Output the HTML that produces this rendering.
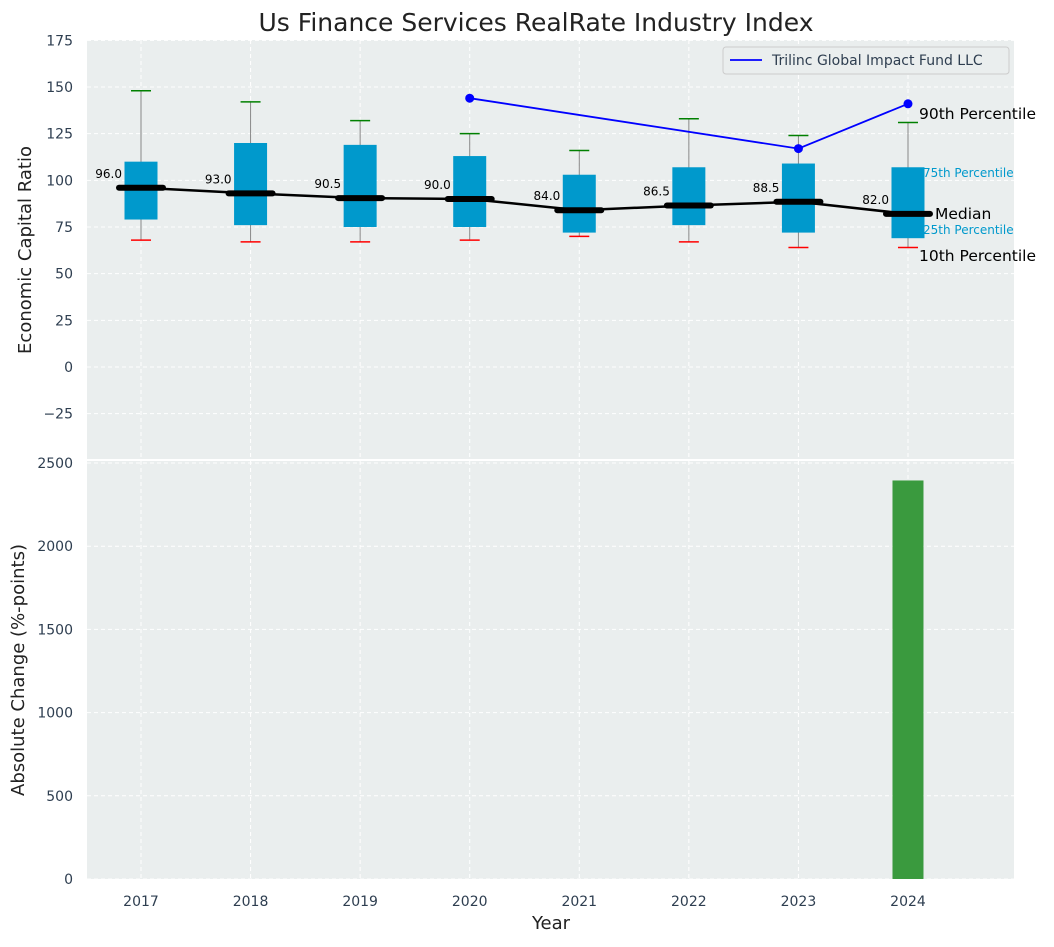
<!DOCTYPE html>
<html><head><meta charset="utf-8"><style>
body{margin:0;background:#fff;font-family:"Liberation Sans","DejaVu Sans",sans-serif}
svg text{font-family:"DejaVu Sans","Liberation Sans",sans-serif}
</style></head><body>
<svg id="c" width="1054" height="942" viewBox="0 0 1054 942"></svg>
<script>
const years=[2017,2018,2019,2020,2021,2022,2023,2024];
const medians=[96,93,90.5,90,84,86.5,88.5,82];
const q1=[79,76,75,75,72,76,72,69];
const q3=[110,120,119,113,103,107,109,107];
const p10=[68,67,67,68,70,67,64,64];
const p90=[148,142,132,125,116,133,124,131];
const fundYears=[2020,2023,2024];
const fundVals=[144,117,141];
const changeYears=[2024];
const changeVals=[2395];
const topTicks=[-25,0,25,50,75,100,125,150,175];
const botTicks=[0,500,1000,1500,2000,2500];

const NS="http://www.w3.org/2000/svg";
const svg=document.getElementById('c');
function el(t,a,p){const e=document.createElementNS(NS,t);for(const k in a)e.setAttribute(k,a[k]);(p||svg).appendChild(e);return e;}
const L=87,R=1014;
const x=v=>141+(v-2017)*109.57;
const yT=v=>367-v*1.8667;
const yB=v=>879-v*0.1664;

let e=el('rect',{x:L,y:40,width:R-L,height:419,fill:'#eaeeee'});


e=el('rect',{x:L,y:461,width:R-L,height:418,fill:'#eaeeee'});



topTicks.forEach(t=>{el('line',{x1:L,x2:R,y1:yT(t),y2:yT(t),stroke:'#fff','stroke-dasharray':'4,3','stroke-width':1});
 const tx=el('text',{x:73,y:yT(t)+5,'text-anchor':'end','font-size':14,fill:'#2e3e50'});tx.textContent=t<0?'\u2212'+(-t):t;
 });
botTicks.forEach(t=>{el('line',{x1:L,x2:R,y1:yB(t),y2:yB(t),stroke:'#fff','stroke-dasharray':'4,3','stroke-width':1});
 const tx=el('text',{x:73,y:yB(t)+5,'text-anchor':'end','font-size':14,fill:'#2e3e50'});tx.textContent=t;
 });
years.forEach(yr=>{
 el('line',{x1:x(yr),x2:x(yr),y1:40,y2:459,stroke:'#fff','stroke-dasharray':'4,3'});
 el('line',{x1:x(yr),x2:x(yr),y1:461,y2:879,stroke:'#fff','stroke-dasharray':'4,3'});
 const tx=el('text',{x:x(yr),y:906,'text-anchor':'middle','font-size':14,fill:'#2e3e50'});tx.textContent=yr;
 
});

years.forEach((yr,i)=>{
 const cx=x(yr),hw=16.5;
 el('line',{x1:cx,x2:cx,y1:yT(p90[i]),y2:yT(p10[i]),stroke:'#888','stroke-width':1});
 const b=el('rect',{x:cx-hw,y:yT(q3[i]),width:2*hw,height:yT(q1[i])-yT(q3[i]),fill:'#0099cc'});
 
 el('line',{x1:cx-10,x2:cx+10,y1:yT(p90[i]),y2:yT(p90[i]),stroke:'green','stroke-width':1.5});
 el('line',{x1:cx-10,x2:cx+10,y1:yT(p10[i]),y2:yT(p10[i]),stroke:'red','stroke-width':1.5});
 el('line',{x1:cx-22,x2:cx+22,y1:yT(medians[i]),y2:yT(medians[i]),stroke:'#000','stroke-width':6,'stroke-linecap':'round'});
 const t=el('text',{x:cx-19,y:yT(medians[i])-10,'text-anchor':'end','font-size':12,fill:'#000'});t.textContent=medians[i].toFixed(1);
 
});
let pl=el('polyline',{points:years.map((y,i)=>x(y)+','+yT(medians[i])).join(' '),fill:'none',stroke:'#000','stroke-width':2.5});

pl=el('polyline',{points:fundYears.map((y,i)=>x(y)+','+yT(fundVals[i])).join(' '),fill:'none',stroke:'blue','stroke-width':1.8});

fundYears.forEach((y,i)=>{const c=el('circle',{cx:x(y),cy:yT(fundVals[i]),r:4.5,fill:'blue'});
 });

const ann=[['90th Percentile',919,119,15.5,'#000'],['75th Percentile',923,177,12,'#0099cc'],['Median',935,219,15.5,'#000'],['25th Percentile',923,234,12,'#0099cc'],['10th Percentile',919,261,15.5,'#000']];
ann.forEach(a=>{const t=el('text',{x:a[1],y:a[2],'font-size':a[3],fill:a[4]});t.textContent=a[0];
 });

changeYears.forEach((yr,i)=>{const r=el('rect',{x:x(yr)-15.5,y:yB(changeVals[i]),width:31,height:879-yB(changeVals[i]),fill:'#3a9a3e'});
 });

const g=el('g',{});
el('rect',{x:723,y:47,width:286,height:27,rx:3,fill:'#eaeeee',stroke:'#ccc'},g);
el('line',{x1:730,x2:762,y1:60,y2:60,stroke:'blue','stroke-width':1.8},g);
let t=el('text',{x:772,y:65,'font-size':14,fill:'#2e3e50'},g);t.textContent='Trilinc Global Impact Fund LLC';

t=el('text',{x:536,y:31,'text-anchor':'middle','font-size':25,fill:'#222'});t.textContent='Us Finance Services RealRate Industry Index';

t=el('text',{x:551,y:929,'text-anchor':'middle','font-size':18,fill:'#222'});t.textContent='Year';

t=el('text',{x:0,y:0,'text-anchor':'middle','font-size':18,fill:'#222',transform:'translate(31,250) rotate(-90)'});t.textContent='Economic Capital Ratio';

t=el('text',{x:0,y:0,'text-anchor':'middle','font-size':18,fill:'#222',transform:'translate(24,670) rotate(-90)'});t.textContent='Absolute Change (%-points)';

</script>
</body></html>
